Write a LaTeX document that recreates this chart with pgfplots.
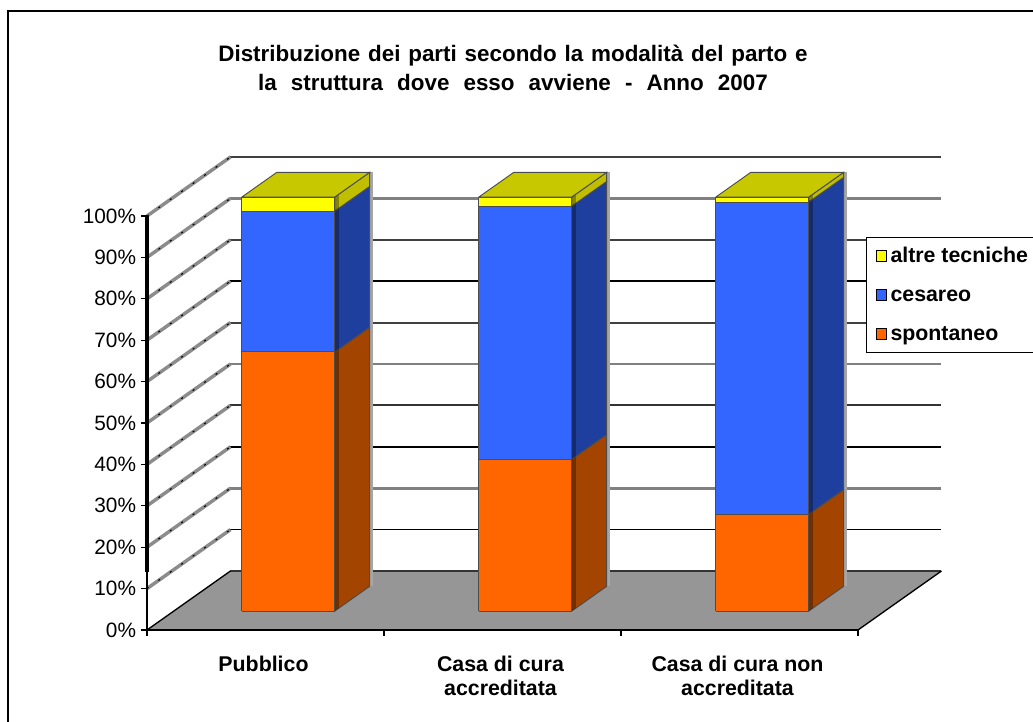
\documentclass[border=0pt]{standalone}
\usepackage{fontspec}
\setmainfont{Liberation Sans}
\usepackage{pgfplots}
\pgfplotsset{compat=1.18}

% 1 image pixel = 0.75pt
\newcommand{\lab}{\fontsize{15.6}{18}\selectfont}
\newcommand{\labb}{\fontsize{16}{18}\selectfont\bfseries}
\definecolor{org}{HTML}{FF6600}
\definecolor{orgs}{HTML}{A34400}
\definecolor{blu}{HTML}{3366FF}
\definecolor{blus}{HTML}{1F3F9F}
\definecolor{yel}{HTML}{FFFF00}
\definecolor{yels}{HTML}{BFBF00}
\definecolor{yelt}{HTML}{C8C800}
\definecolor{floorc}{HTML}{969696}

% left, right, bottom, top, front colour, side colour
\newcommand{\seg}[6]{
  \addplot3[forget plot,draw=black!35,line width=2pt] coordinates {(#2+0.008,0.74,#3) (#2+0.008,0.74,#4)};
  \addplot3[forget plot,fill=#6,draw=black!70,line width=0.7pt] coordinates {(#2,0.32,#3) (#2,0.74,#3) (#2,0.74,#4) (#2,0.32,#4) (#2,0.32,#3)};
  \addplot3[forget plot,fill=black,fill opacity=0.3,draw=none] coordinates {(#2,0.32,#3) (#2,0.37,#3) (#2,0.37,#4) (#2,0.32,#4) (#2,0.32,#3)};
  \addplot3[forget plot,fill=#5,draw=black!70,line width=0.7pt] coordinates {(#1,0.32,#3) (#2,0.32,#3) (#2,0.32,#4) (#1,0.32,#4) (#1,0.32,#3)};
}
% left, right, top
\newcommand{\topf}[3]{
  \addplot3[forget plot,fill=yelt,draw=black!70,line width=0.7pt] coordinates {(#1,0.32,#3) (#2,0.32,#3) (#2,0.74,#3) (#1,0.74,#3) (#1,0.32,#3)};
}
% level, colour, width
\newcommand{\gl}[3]{
  \addplot3[forget plot,draw=#2,line width=#3] coordinates {(0,1,#1) (3,1,#1)};
  \addplot3[forget plot,draw=black!45,line width=2.6pt] coordinates {(0,0,#1) (0,1,#1)};
  \addplot3[forget plot,draw=black,line width=0.8pt,dash pattern=on 1.5pt off 9pt] coordinates {(0,0,#1) (0,1,#1)};
}

\begin{document}
\begin{tikzpicture}[x=0.75pt,y=0.75pt]
\path[use as bounding box] (-147,-92) rectangle (886,630);
\draw[black,line width=1pt] (-139,-100) -- (-139,619) -- (895,619);
\begin{axis}[
  at={(0,0)},anchor=origin,
  x={(177.75pt,0pt)},y={(62.6pt,44.25pt)},z={(0pt,3.105pt)},
  xmin=0,xmax=3,ymin=0,ymax=1,zmin=0,zmax=100,
  axis lines*=left,
  y axis line style={draw=none},
  z axis line style={draw=none},
  x axis line style={draw=none},
  ytick=\empty,
  xtick={0.5,1.5,2.5},
  xticklabels={Pubblico,Casa di cura\\accreditata,Casa di cura non\\accreditata},
  xticklabel style={font=\labb,align=center,anchor=north,yshift=-16pt,xshift=-1.5pt},
  x tick style={draw=none},
  ztick={0,10,...,100},
  zticklabel={\pgfmathprintnumber{\tick}\%},
  /pgf/number format/assume math mode=true,
  zticklabel style={font=\lab,anchor=east,xshift=-4.7pt},
  z tick style={draw=none},
  major tick length=0pt,
  clip=false,
  legend style={at={(0.9055,0.831)},anchor=north west,font=\labb,draw=black,line width=0.8pt,fill=white,
    inner xsep=6.5pt,inner ysep=6.5pt,row sep=14.25pt,column sep=2.5pt,cells={anchor=west},
    nodes={text height=12.5pt,text depth=2.5pt,inner sep=0pt}},
  legend cell align=left,
  legend image code/.code={\draw[#1,line width=0.7pt,draw=black] (0pt,-4pt) rectangle (8pt,4pt);},
  no marks,
]
% floor
\addplot3[forget plot,fill=floorc,draw=none] coordinates {(0,0,0) (3,0,0) (3,1,0) (0,1,0) (0,0,0)};

% walls
\gl{100}{black!75}{1.6pt}
\gl{90}{black!50}{2.2pt}
\gl{80}{black!75}{1.6pt}
\gl{70}{black}{1.2pt}
\gl{60}{black!75}{1.6pt}
\gl{50}{black!50}{2.2pt}
\gl{40}{black!80}{1.4pt}
\gl{30}{black}{1.2pt}
\gl{20}{black!50}{2.2pt}
\gl{10}{black}{1.2pt}
\addplot3[forget plot,draw=black!80,line width=1.6pt] coordinates {(0,1,0) (3,1,0)};

% bars
\seg{0.287}{0.679}{0}{62.6}{org}{orgs}
\seg{0.287}{0.679}{62.6}{96.6}{blu}{blus}
\seg{0.287}{0.679}{96.6}{100}{yel}{yels}
\topf{0.287}{0.679}{100}
\seg{1.287}{1.679}{0}{36.7}{org}{orgs}
\seg{1.287}{1.679}{36.7}{97.8}{blu}{blus}
\seg{1.287}{1.679}{97.8}{100}{yel}{yels}
\topf{1.287}{1.679}{100}
\seg{2.287}{2.679}{0}{23.4}{org}{orgs}
\seg{2.287}{2.679}{23.4}{98.8}{blu}{blus}
\seg{2.287}{2.679}{98.8}{100}{yel}{yels}
\topf{2.287}{2.679}{100}

% axis lines and ticks
\addplot3[forget plot,draw=black,line width=2.4pt] coordinates {(0,0,14) (0,0,100)};
\addplot3[forget plot,draw=black,line width=1pt] coordinates {(0,0,0) (0,0,14)};
\addplot3[forget plot,draw=black,line width=2.2pt] coordinates {(0,0,0) (3,0,0)};
\addplot3[forget plot,draw=black,line width=1pt] coordinates {(0,0,0) (0,1,0)};
\addplot3[forget plot,draw=black,line width=1pt] coordinates {(3,0,0) (3,1,0)};
\pgfplotsinvokeforeach{0,10,20,30,40,50,60,70,80,90,100}{
  \addplot3[forget plot,draw=black,line width=0.8pt] coordinates {(0,0,#1) (-0.025,0,#1)};
}
\pgfplotsinvokeforeach{0,1,2,3}{
  \addplot3[forget plot,draw=black,line width=0.8pt] coordinates {(#1,0,0) (#1,0,-1.4)};
}

\addlegendimage{fill=yel}
\addlegendentry{altre tecniche}
\addlegendimage{fill=blu}
\addlegendentry{cesareo}
\addlegendimage{fill=org}
\addlegendentry{spontaneo}
\end{axis}
\node[font=\fontsize{16.8}{21.75}\selectfont\bfseries,align=center,anchor=center] at (366,562)
  {{\spaceskip=0.35em Distribuzione dei parti secondo la modalità del parto e}\\{\spaceskip=0.63em la struttura dove esso avviene - Anno 2007}};
\end{tikzpicture}
\end{document}
